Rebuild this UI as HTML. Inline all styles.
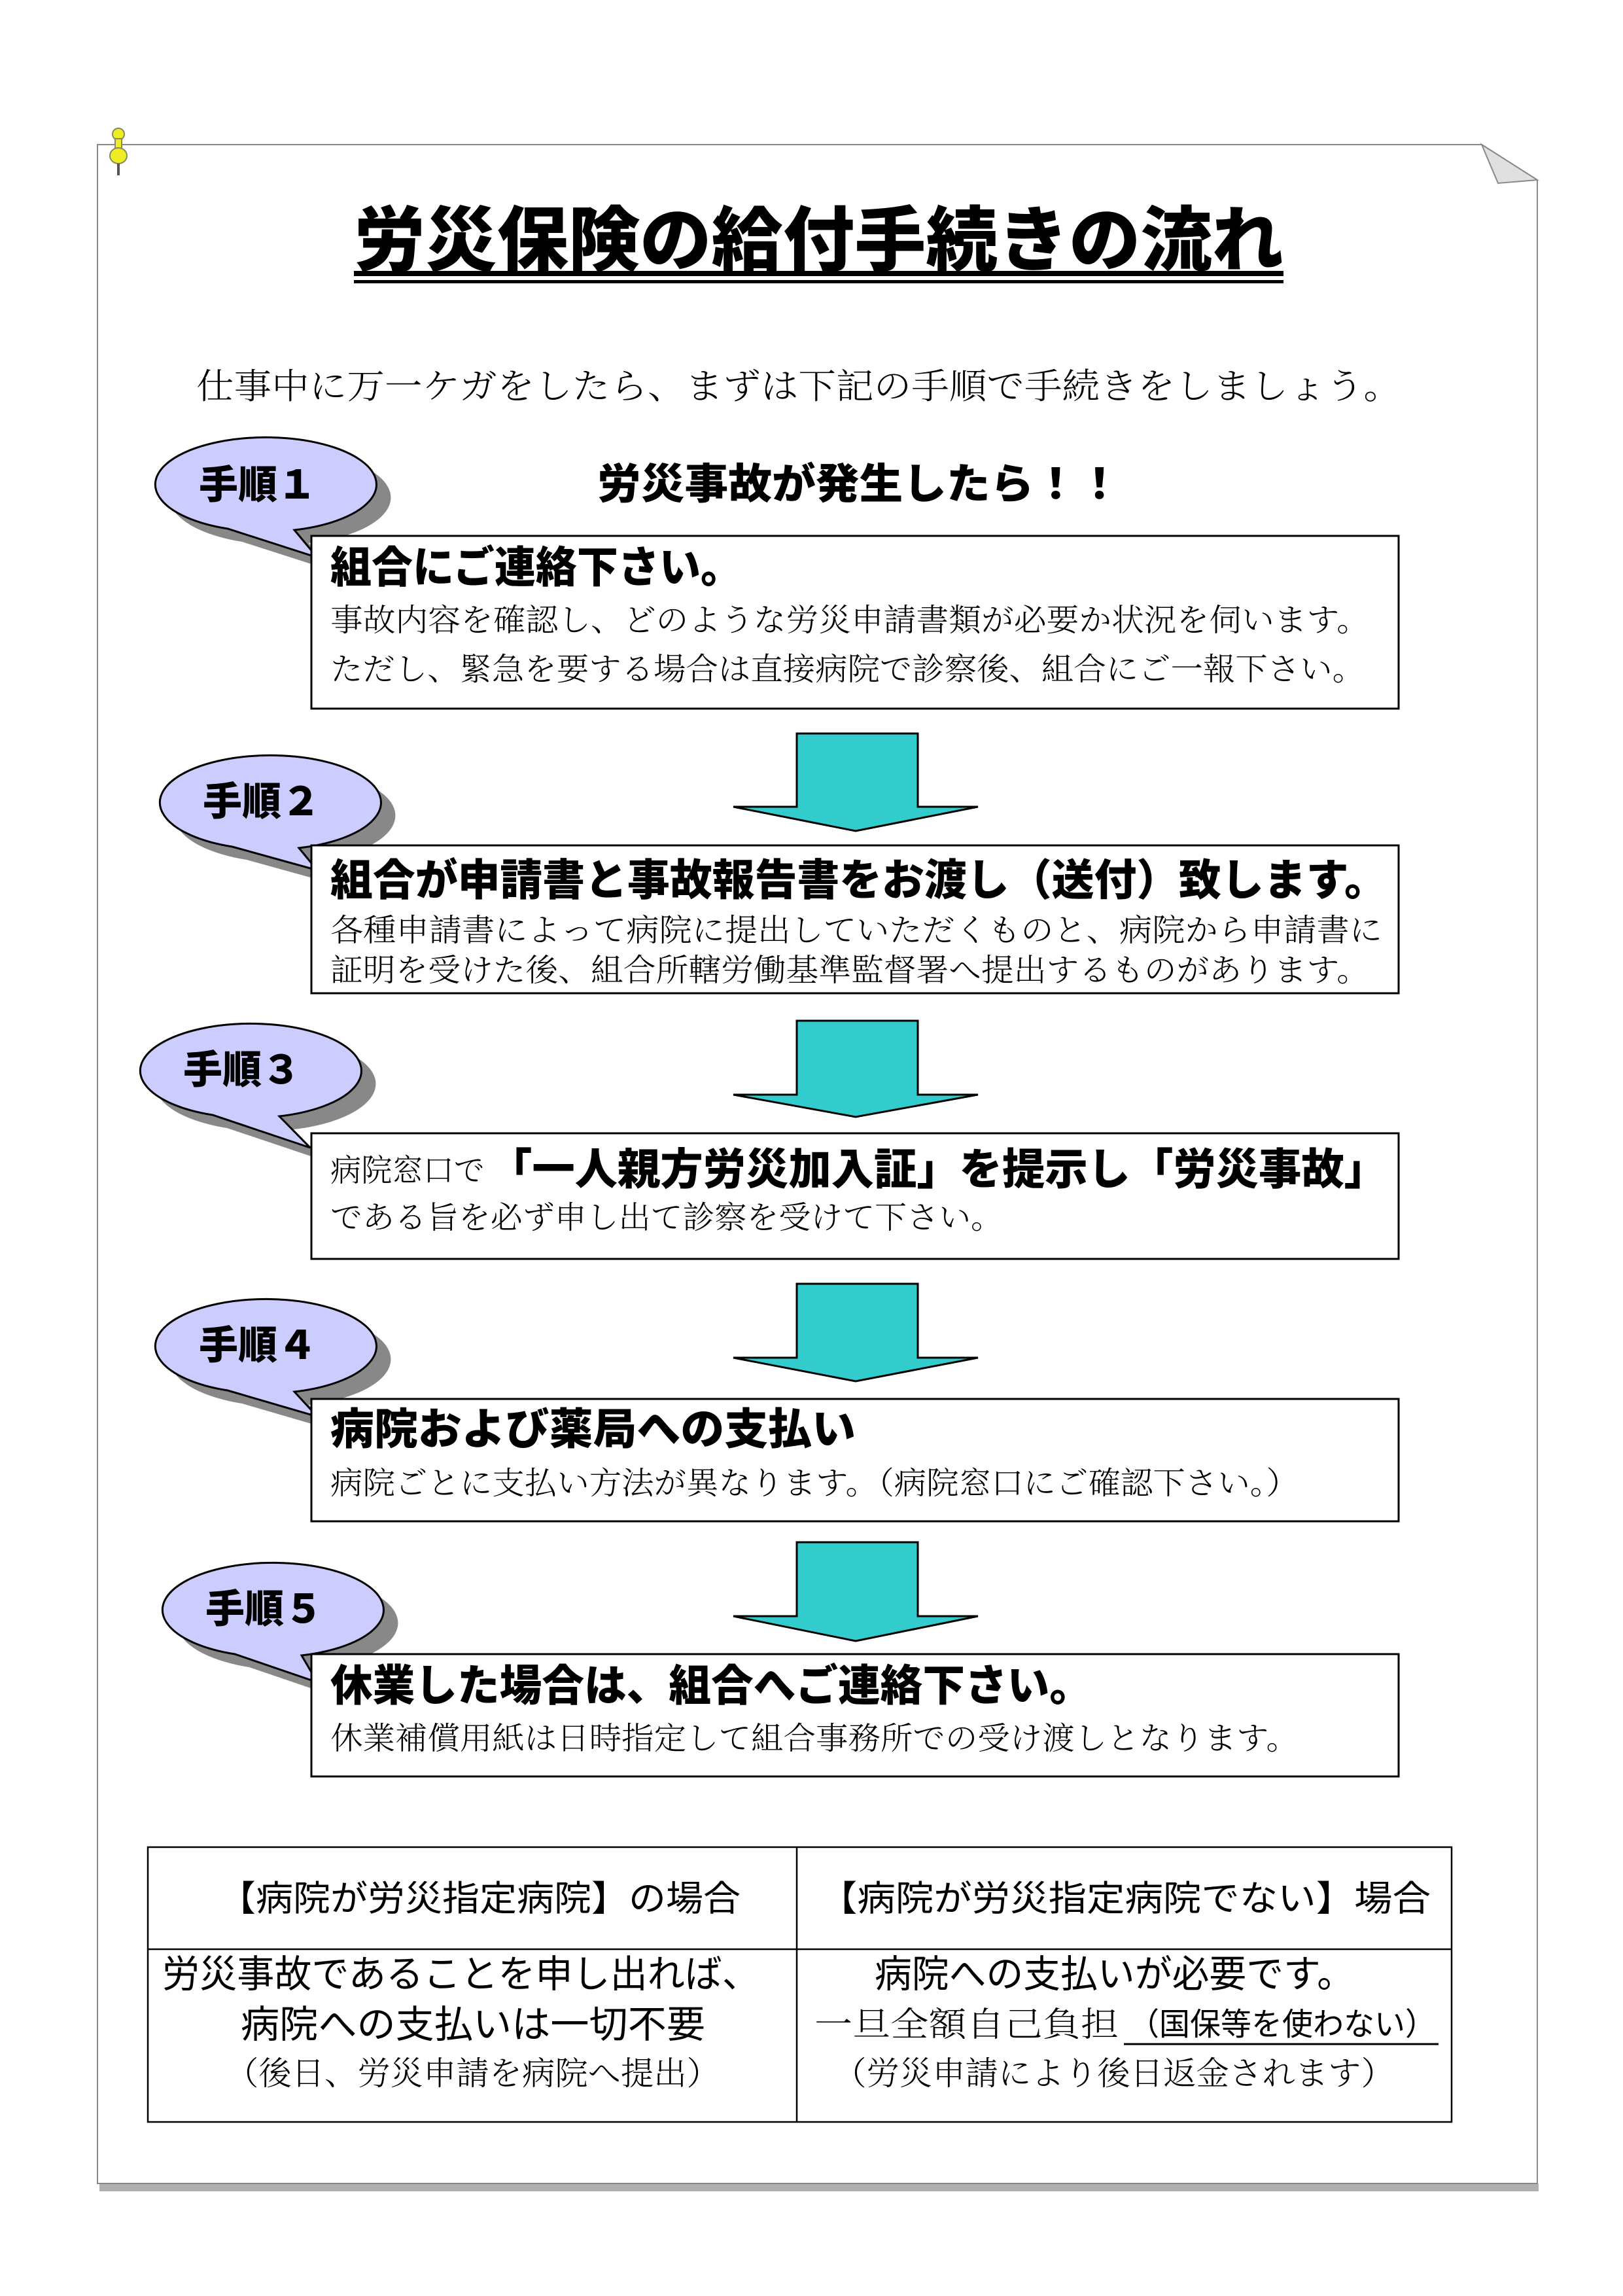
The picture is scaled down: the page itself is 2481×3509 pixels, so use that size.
<!DOCTYPE html>
<html><head><meta charset="utf-8"><style>
html,body{margin:0;padding:0;background:#fff}
svg{display:block}
.h{font-family:"Liberation Sans","Noto Sans CJK JP",sans-serif;font-weight:900}
.m{font-family:"Liberation Serif","Noto Serif CJK SC",serif;font-weight:300}
.g{font-family:"Liberation Sans","Noto Sans CJK JP",sans-serif;font-weight:400}
</style></head><body>
<svg width="2481" height="3509" viewBox="0 0 2481 3509" xmlns="http://www.w3.org/2000/svg">
<!-- page -->
<rect x="152" y="3337" width="2200" height="12" fill="#b0b0b0"/>
<path d="M149 221 L2265 221 L2350 275 L2350 3337 L149 3337 Z" fill="#fff" stroke="#888" stroke-width="2"/>
<path d="M2265 221 L2350 275 L2290 280 Z" fill="#e0e0e0" stroke="#888" stroke-width="2"/>
<!-- pin -->
<circle cx="181" cy="205" r="9" fill="#ee2" stroke="#886" stroke-width="2"/>
<rect x="176" y="212" width="10" height="20" fill="#ee2" stroke="#886" stroke-width="2"/>
<ellipse cx="181" cy="238" rx="13" ry="12" fill="#ee2" stroke="#886" stroke-width="2"/>
<line x1="181" y1="250" x2="181" y2="268" stroke="#555" stroke-width="4"/>
<!-- title -->
<text class="h" x="541" y="405" font-size="108" textLength="1421" lengthAdjust="spacingAndGlyphs" font-weight="700">労災保険の給付手続きの流れ</text>
<rect x="541" y="414" width="1421" height="8" fill="#000"/>
<rect x="541" y="428" width="1421" height="5" fill="#000"/>
<text class="m" x="300" y="609" font-size="54" textLength="1842" lengthAdjust="spacingAndGlyphs">仕事中に万一ケガをしたら、まずは下記の手順で手続きをしましょう。</text>

<!-- bubble1 -->
<path d="M450 810 L485 852 L348 808 A169 72 0 1 1 450 810 Z" fill="#888" transform="translate(22,20)"/>
<path d="M450 810 L485 852 L348 808 A169 72 0 1 1 450 810 Z" fill="#ccccff" stroke="#000" stroke-width="3"/>
<text class="h" x="394" y="762" font-size="60" text-anchor="middle">手順１</text>
<!-- bubble2 -->
<path d="M457 1296 L485 1330 L355 1294 A169 72 0 1 1 457 1296 Z" fill="#888" transform="translate(22,20)"/>
<path d="M457 1296 L485 1330 L355 1294 A169 72 0 1 1 457 1296 Z" fill="#ccccff" stroke="#000" stroke-width="3"/>
<text class="h" x="400" y="1246" font-size="60" text-anchor="middle">手順２</text>
<!-- bubble3 -->
<path d="M427 1706 L474 1754 L325 1704 A169 72 0 1 1 427 1706 Z" fill="#888" transform="translate(22,20)"/>
<path d="M427 1706 L474 1754 L325 1704 A169 72 0 1 1 427 1706 Z" fill="#ccccff" stroke="#000" stroke-width="3"/>
<text class="h" x="370" y="1656" font-size="60" text-anchor="middle">手順３</text>
<!-- bubble4 -->
<path d="M450 2127 L485 2165 L348 2125 A169 72 0 1 1 450 2127 Z" fill="#888" transform="translate(22,20)"/>
<path d="M450 2127 L485 2165 L348 2125 A169 72 0 1 1 450 2127 Z" fill="#ccccff" stroke="#000" stroke-width="3"/>
<text class="h" x="394" y="2077" font-size="60" text-anchor="middle">手順４</text>
<!-- bubble5 -->
<path d="M461 2530 L485 2571 L359 2528 A169 72 0 1 1 461 2530 Z" fill="#888" transform="translate(22,20)"/>
<path d="M461 2530 L485 2571 L359 2528 A169 72 0 1 1 461 2530 Z" fill="#ccccff" stroke="#000" stroke-width="3"/>
<text class="h" x="404" y="2480" font-size="60" text-anchor="middle">手順５</text>

<text class="h" x="913" y="762" font-size="64" textLength="801" lengthAdjust="spacingAndGlyphs">労災事故が発生したら！！</text>

<!-- boxes -->
<g fill="#fff" stroke="#000" stroke-width="3">
<rect x="476" y="819" width="1662" height="264"/>
<rect x="476" y="1292" width="1662" height="226"/>
<rect x="476" y="1732" width="1662" height="192"/>
<rect x="476" y="2138" width="1662" height="187"/>
<rect x="476" y="2528" width="1662" height="187"/>
</g>

<!-- box1 -->
<text class="h" x="505" y="890" font-size="66" textLength="629" lengthAdjust="spacingAndGlyphs">組合にご連絡下さい。</text>
<text class="m" x="505" y="964" font-size="48" textLength="1588" lengthAdjust="spacingAndGlyphs">事故内容を確認し、どのような労災申請書類が必要か状況を伺います。</text>
<text class="m" x="505" y="1039" font-size="48" textLength="1581" lengthAdjust="spacingAndGlyphs">ただし、緊急を要する場合は直接病院で診察後、組合にご一報下さい。</text>
<!-- box2 -->
<text class="h" x="505" y="1368" font-size="66" textLength="1615" lengthAdjust="spacingAndGlyphs">組合が申請書と事故報告書をお渡し（送付）致します。</text>
<text class="m" x="505" y="1438" font-size="48" textLength="1608" lengthAdjust="spacingAndGlyphs">各種申請書によって病院に提出していただくものと、病院から申請書に</text>
<text class="m" x="505" y="1499" font-size="48" textLength="1588" lengthAdjust="spacingAndGlyphs">証明を受けた後、組合所轄労働基準監督署へ提出するものがあります。</text>
<!-- box3 -->
<text class="m" x="505" y="1805" font-size="48" textLength="236" lengthAdjust="spacingAndGlyphs">病院窓口で</text>
<text class="h" x="748" y="1810" font-size="66" textLength="1372" lengthAdjust="spacingAndGlyphs">「一人親方労災加入証」を提示し「労災事故」</text>
<text class="m" x="505" y="1877" font-size="48" textLength="1028" lengthAdjust="spacingAndGlyphs">である旨を必ず申し出て診察を受けて下さい。</text>
<!-- box4 -->
<text class="h" x="505" y="2207" font-size="66" textLength="803" lengthAdjust="spacingAndGlyphs">病院および薬局への支払い</text>
<text class="m" x="505" y="2283" font-size="48" textLength="1480" lengthAdjust="spacingAndGlyphs">病院ごとに支払い方法が異なります。（病院窓口にご確認下さい。）</text>
<!-- box5 -->
<text class="h" x="505" y="2599" font-size="66" textLength="1164" lengthAdjust="spacingAndGlyphs">休業した場合は、組合へご連絡下さい。</text>
<text class="m" x="505" y="2673" font-size="48" textLength="1480" lengthAdjust="spacingAndGlyphs">休業補償用紙は日時指定して組合事務所での受け渡しとなります。</text>

<!-- arrows -->
<g fill="#33cccc" stroke="#000" stroke-width="3">
<path d="M1218 1121 L1403 1121 L1403 1233 L1495 1233 L1308 1270 L1121 1233 L1218 1233 Z"/>
<path d="M1218 1560 L1403 1560 L1403 1673 L1495 1673 L1308 1707 L1121 1673 L1218 1673 Z"/>
<path d="M1218 1962 L1403 1962 L1403 2075 L1495 2075 L1308 2111 L1121 2075 L1218 2075 Z"/>
<path d="M1218 2357 L1403 2357 L1403 2470 L1495 2470 L1308 2508 L1121 2470 L1218 2470 Z"/>
</g>

<!-- table -->
<g fill="none" stroke="#000" stroke-width="2.5">
<rect x="226" y="2823" width="1993" height="420"/>
<line x1="1218" y1="2823" x2="1218" y2="3243"/>
<line x1="226" y1="2979" x2="2219" y2="2979"/>
</g>
<text class="g" x="334" y="2920" font-size="54" textLength="798" lengthAdjust="spacingAndGlyphs">【病院が労災指定病院】の場合</text>
<text class="g" x="1252" y="2920" font-size="54" textLength="935" lengthAdjust="spacingAndGlyphs">【病院が労災指定病院でない】場合</text>
<text class="g" x="248" y="3037" font-size="58" font-weight="700" textLength="913" lengthAdjust="spacingAndGlyphs">労災事故であることを申し出れば、</text>
<text class="g" x="368" y="3114" font-size="58" font-weight="700" textLength="710" lengthAdjust="spacingAndGlyphs">病院への支払いは一切不要</text>
<text class="m" x="345" y="3186" font-size="50" textLength="755" lengthAdjust="spacingAndGlyphs">（後日、労災申請を病院へ提出）</text>
<text class="g" x="1337" y="3037" font-size="58" font-weight="700" textLength="733" lengthAdjust="spacingAndGlyphs">病院への支払いが必要です。</text>
<text class="m" x="1245" y="3112" font-size="52" textLength="465" lengthAdjust="spacingAndGlyphs">一旦全額自己負担</text>
<text class="g" x="1725" y="3110" font-size="48" textLength="470" lengthAdjust="spacingAndGlyphs">（国保等を使わない）</text>
<line x1="1718" y1="3124" x2="2199" y2="3124" stroke="#000" stroke-width="3"/>
<text class="m" x="1274" y="3186" font-size="50" textLength="857" lengthAdjust="spacingAndGlyphs">（労災申請により後日返金されます）</text>
</svg>
</body></html>
